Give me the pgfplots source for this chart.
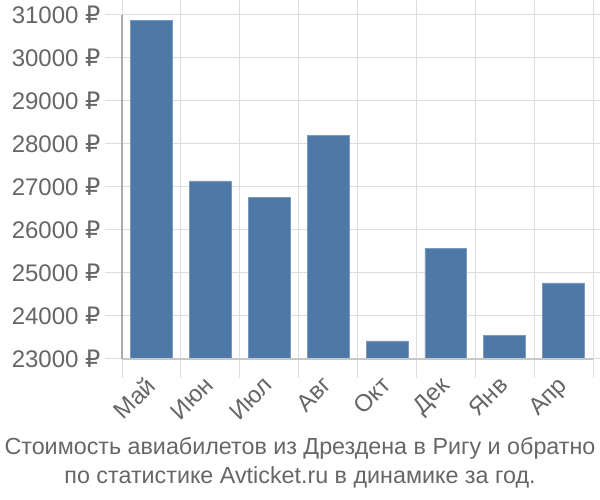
\documentclass[border=0pt]{standalone}
\usepackage{pgfplots}
\pgfplotsset{compat=1.18}
\usepackage{fontspec}
\setmainfont{Liberation Sans}
\newfontfamily\dejavu{DejaVu Sans}
\definecolor{txt}{HTML}{666666}
\definecolor{barc}{HTML}{4E79A7}
\definecolor{gridc}{HTML}{DDDDDD}
\begin{document}
\begin{tikzpicture}
\useasboundingbox (0,0) rectangle (600pt,500pt);
\begin{axis}[
  at={(122pt,141pt)}, anchor=south west,
  scale only axis, width=471pt, height=344pt,
  xmin=-0.5, xmax=7.5, ymin=23000, ymax=31000,
  axis line style={draw=none},
  xtick={0,...,7},
  xticklabels={Май,Июн,Июл,Авг,Окт,Дек,Янв,Апр},
  minor xtick={-0.5,0.5,...,7.5},
  ytick={23000,24000,...,31000},
  yticklabel={\pgfmathprintnumber[fixed,use comma=false,1000 sep={}]{\tick}~{\dejavu ₽}},
  /pgf/number format/assume math mode=true,
  scaled y ticks=false,
  tick align=outside,
  major tick length=17pt, minor tick length=19pt,
  major x tick style={draw=none},
  minor x tick style={draw=gridc, line width=1pt},
  major y tick style={draw=gridc, line width=1pt},
  xminorgrids, ymajorgrids,
  minor grid style={draw=gridc, line width=1pt},
  major grid style={draw=gridc, line width=1pt},
  ticklabel style={font=\fontsize{24}{26}\selectfont, text=txt},
  yticklabel style={xshift=-1pt},
  xticklabel style={xshift=-7pt, yshift=4pt, rotate=45, anchor=north east, inner sep=2pt},
  clip=false,
]
\addplot[ybar, bar width=0.71, fill=barc, draw=barc!75!white, line width=0.6pt, bar shift=0pt]
 coordinates {(0,30880) (1,27140) (2,26750) (3,28205) (4,23420) (5,25580) (6,23555) (7,24770)};
\draw[black!22, line width=1.2pt] (axis cs:-0.5,23000) -- (axis cs:7.5,23000);
\draw[black!33, line width=2pt] (axis cs:-0.5,23000) -- (axis cs:-0.5,31000);
\end{axis}
\node[text=txt, font=\fontsize{23.3}{28.5}\selectfont, align=center, anchor=north] at (300pt,66pt)
 {Стоимость авиабилетов из Дрездена в Ригу и обратно\\по статистике Avticket.ru в динамике за год.};
\end{tikzpicture}
\end{document}
